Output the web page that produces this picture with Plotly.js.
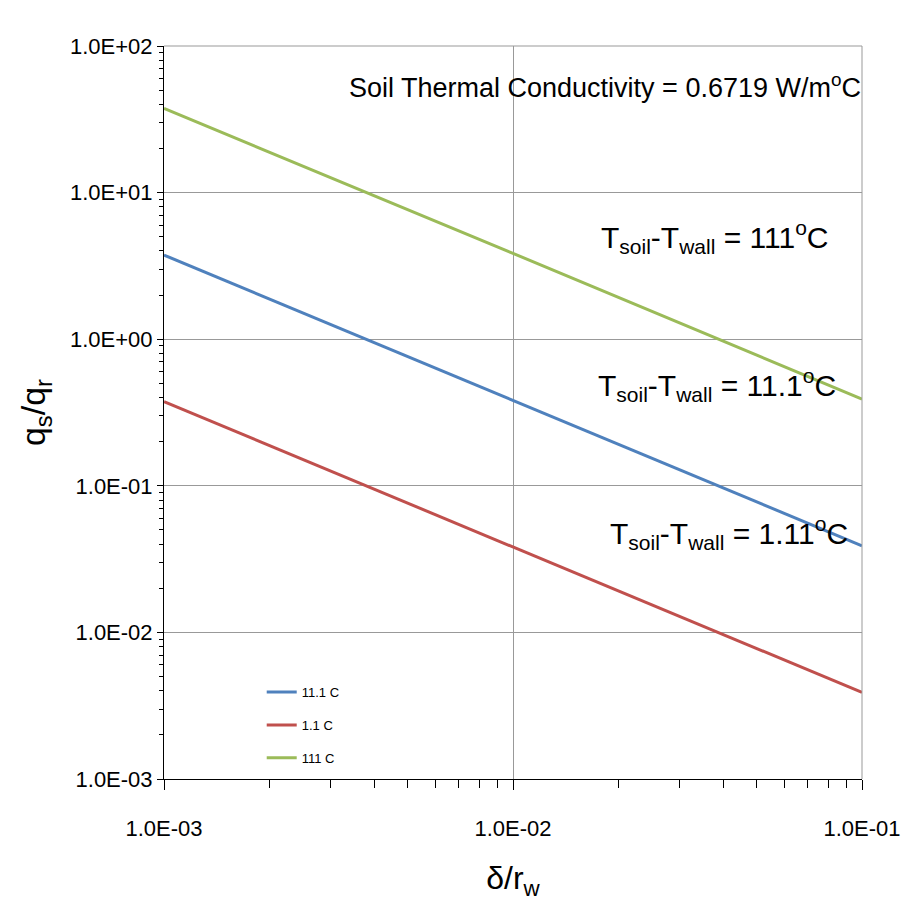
<!DOCTYPE html>
<html>
<head>
<meta charset="utf-8">
<script src="https://cdn.plot.ly/plotly-3.0.1.min.js"></script>
<style>html,body{margin:0;padding:0;background:#fff;}#chart{width:922px;height:921px;}</style>
</head>
<body>
<div id="chart"></div>
<script>
// Data
const xValues = [0.001, 0.01, 0.1];
const series111 = [3.75, 0.38, 0.039];     // 11.1 C
const series11 = [0.375, 0.038, 0.0039];   // 1.1 C
const series1110 = [37.5, 3.85, 0.39];     // 111 C
const seriesNames = ['11.1 C', '1.1 C', '111 C'];
const xTickVals = [0.001, 0.01, 0.1];
const xTickText = ['1.0E-03', '1.0E-02', '1.0E-01'];
const yTickVals = [0.001, 0.01, 0.1, 1, 10, 100];
const yTickText = ['1.0E-03', '1.0E-02', '1.0E-01', '1.0E+00', '1.0E+01', '1.0E+02'];
const xMinorVals = [0.002,0.003,0.004,0.005,0.006,0.007,0.008,0.009,0.02,0.03,0.04,0.05,0.06,0.07,0.08,0.09];

const colors = ['#4F81BD', '#C0504D', '#9BBB59'];
const ys = [series111, series11, series1110];

const traces = ys.map((y, i) => ({
  x: xValues, y: y, name: seriesNames[i], type: 'scatter', mode: 'lines',
  legendgroup: 'g' + i,
  line: {color: colors[i], width: 3}
}));

const font = 'Liberation Sans, Arial, sans-serif';
const layout = {
  width: 922, height: 921,
  margin: {l: 164, r: 60, t: 46, b: 142},
  paper_bgcolor: '#fff', plot_bgcolor: '#fff',
  font: {family: font, color: '#000'},
  showlegend: true,
  legend: {x: 0.14, y: 0.139, xanchor: 'left', yanchor: 'top', font: {size: 13, family: font},
           bgcolor: 'rgba(0,0,0,0)', itemwidth: 30, tracegroupgap: 13},
  xaxis: {
    type: 'log', range: [-3, -1],
    tickvals: xTickVals, ticktext: xTickText,
    tickfont: {size: 22, family: font},
    ticklabelstandoff: 20,
    showgrid: true, gridcolor: '#999', gridwidth: 1,
    showline: true, linecolor: '#000', linewidth: 1,
    ticks: 'outside', ticklen: 10, tickcolor: '#000',
    minor: {ticks: 'outside', ticklen: 8, tickcolor: '#000', showgrid: false, tickvals: xMinorVals},
    zeroline: false, automargin: false,
    title: {text: 'δ/r<sub>w</sub>', font: {size: 32, family: font}, standoff: 26}
  },
  yaxis: {
    type: 'log', range: [-3, 2],
    tickvals: yTickVals, ticktext: yTickText,
    tickfont: {size: 22, family: font},
    showgrid: true, gridcolor: '#999', gridwidth: 1,
    showline: true, linecolor: '#000', linewidth: 1,
    ticks: 'outside', ticklen: 6, tickcolor: '#000',
    minor: {ticks: 'outside', ticklen: 4, tickcolor: '#000', showgrid: false, dtick: 'D1'},
    zeroline: false, automargin: false,
    title: {text: 'q<sub>s</sub>/q<sub>r</sub>', font: {size: 34, family: font}, standoff: 14}
  },
  shapes: [
    {type: 'line', xref: 'paper', yref: 'paper', x0: 1, x1: 1, y0: 0, y1: 1, line: {color: '#999', width: 1}},
    {type: 'line', xref: 'paper', yref: 'paper', x0: 0, x1: 1, y0: 1, y1: 1, line: {color: '#999', width: 1}}
  ],
  annotations: [
    {xref: 'paper', yref: 'paper', x: 0.632, y: 0.945, text: 'Soil Thermal Conductivity = 0.6719 W/m<sup>o</sup>C',
     showarrow: false, font: {size: 27, family: font}, xanchor: 'center', yanchor: 'middle'},
    {xref: 'paper', yref: 'paper', x: 0.79, y: 0.74, text: 'T<sub>soil</sub>-T<sub>wall</sub> = 111<sup>o</sup>C',
     showarrow: false, font: {size: 30, family: font}, xanchor: 'center', yanchor: 'middle'},
    {xref: 'paper', yref: 'paper', x: 0.792, y: 0.538, text: 'T<sub>soil</sub>-T<sub>wall</sub> = 11.1<sup>o</sup>C',
     showarrow: false, font: {size: 30, family: font}, xanchor: 'center', yanchor: 'middle'},
    {xref: 'paper', yref: 'paper', x: 0.81, y: 0.335, text: 'T<sub>soil</sub>-T<sub>wall</sub> = 1.11<sup>o</sup>C',
     showarrow: false, font: {size: 30, family: font}, xanchor: 'center', yanchor: 'middle'}
  ]
};

Plotly.newPlot('chart', traces, layout, {staticPlot: true, displayModeBar: false});
</script>
</body>
</html>
